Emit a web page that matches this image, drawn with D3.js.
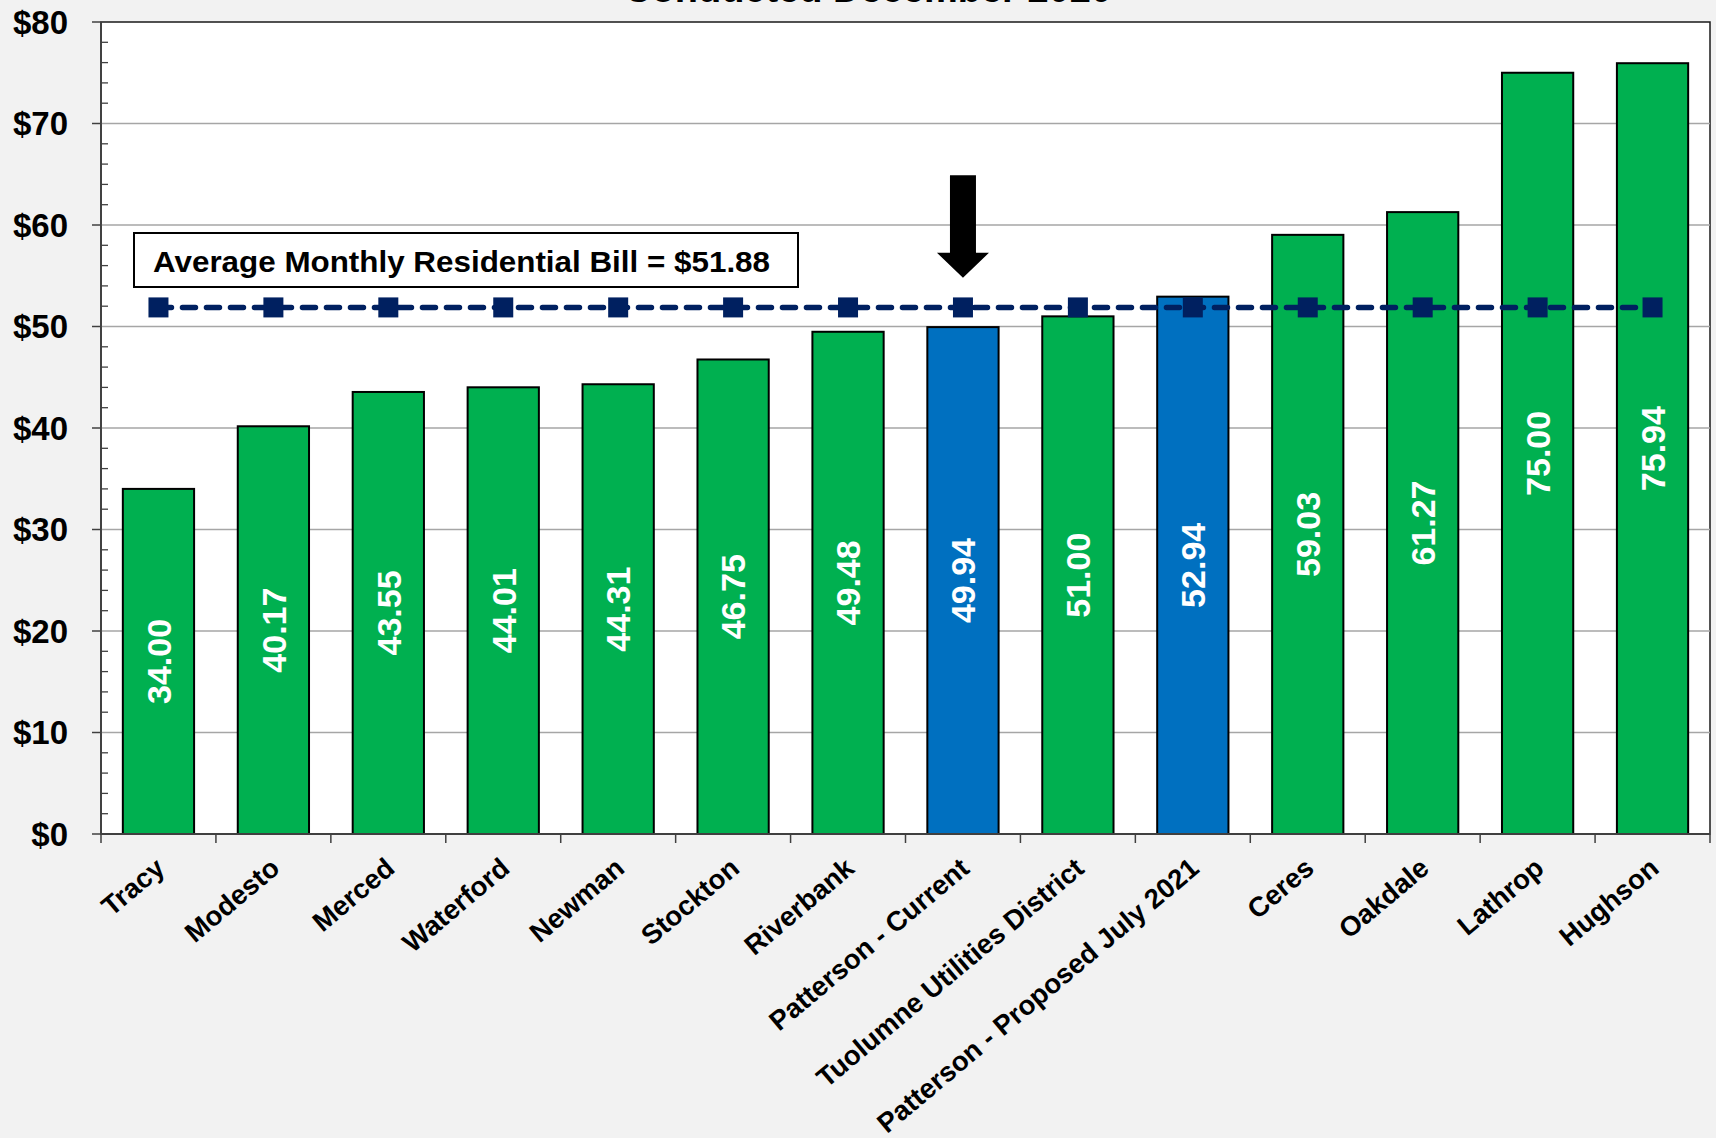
<!DOCTYPE html>
<html lang="en">
<head>
<meta charset="UTF-8">
<title>Monthly Residential Bill Survey</title>
<script src="https://d3js.org/d3.v7.min.js"></script>
<style>
    body, html {
        margin: 0;
        padding: 0;
        background: #f2f2f2;
        overflow: hidden;
    }
    svg text {
        font-family: "Liberation Sans", Arial, sans-serif;
        font-weight: bold;
    }
</style>
</head>
<body>
<svg id="chart" width="1716" height="1138"></svg>
<script>
// data
const agencies = ["Tracy", "Modesto", "Merced", "Waterford", "Newman", "Stockton", "Riverbank",
    "Patterson - Current", "Tuolumne Utilities District", "Patterson - Proposed July 2021",
    "Ceres", "Oakdale", "Lathrop", "Hughson"];
const bills = [34.00, 40.17, 43.55, 44.01, 44.31, 46.75, 49.48, 49.94, 51.00, 52.94, 59.03, 61.27, 75.00, 75.94];
const highlighted = ["Patterson - Current", "Patterson - Proposed July 2021"];
const averageBill = 51.88;
const yTicks = [0, 10, 20, 30, 40, 50, 60, 70, 80];
const title = "Conducted December 2020";
const averageLabel = "Average Monthly Residential Bill = $51.88";
const arrowTarget = "Patterson - Current";
const arrowFrom = 64.9, arrowTo = 54.8;   // in $ units

const svg = d3.select("#chart");
const plotLeft = 101, plotRight = 1710, plotTop = 22, plotBottom = 834;

const x = d3.scaleBand()
    .domain(agencies)
    .range([plotLeft, plotRight])
    .paddingInner(0.38)
    .paddingOuter(0.19);

const y = d3.scaleLinear()
    .domain([0, 80])
    .range([plotBottom, plotTop]);

// title (cut off at the top like the original)
svg.append("text")
    .attr("x", 868)
    .attr("y", 2)
    .attr("text-anchor", "middle")
    .attr("font-size", 38)
    .attr("fill", "#000")
    .text(title);

// plot area
svg.append("rect")
    .attr("x", plotLeft).attr("y", plotTop)
    .attr("width", plotRight - plotLeft).attr("height", plotBottom - plotTop)
    .attr("fill", "#fff")
    .attr("stroke", "#1a1a1a")
    .attr("stroke-width", 1.5);

// gridlines
svg.append("g")
    .selectAll("line")
    .data(yTicks.filter(d => d > 0 && d < 80))
    .join("line")
    .attr("x1", plotLeft).attr("x2", plotRight)
    .attr("y1", d => y(d)).attr("y2", d => y(d))
    .attr("stroke", "#a6a6a6")
    .attr("stroke-width", 1.3);

// bars
const centre = d => x(d) + x.bandwidth() / 2;
svg.append("g")
    .selectAll("rect")
    .data(agencies)
    .join("rect")
    .attr("x", d => x(d))
    .attr("y", (d, i) => y(bills[i]))
    .attr("width", x.bandwidth())
    .attr("height", (d, i) => y(0) - y(bills[i]))
    .attr("fill", d => highlighted.includes(d) ? "#0070c0" : "#00b050")
    .attr("stroke", "#000")
    .attr("stroke-width", 2);

// value labels inside bars
svg.append("g")
    .selectAll("text")
    .data(agencies)
    .join("text")
    .attr("transform", (d, i) => `translate(${centre(d)},${(y(bills[i]) + y(0)) / 2}) rotate(-90)`)
    .attr("text-anchor", "middle")
    .attr("dy", "0.36em")
    .attr("font-size", 34)
    .attr("fill", "#fff")
    .text((d, i) => bills[i].toFixed(2));

// average line with square markers
const avgY = y(averageBill);
svg.append("line")
    .attr("x1", centre(agencies[0]))
    .attr("x2", centre(agencies[agencies.length - 1]))
    .attr("y1", avgY).attr("y2", avgY)
    .attr("stroke", "#002060")
    .attr("stroke-width", 5.5)
    .attr("stroke-dasharray", "13 11")
    .attr("stroke-linecap", "round");

svg.append("g")
    .selectAll("rect")
    .data(agencies)
    .join("rect")
    .attr("x", d => centre(d) - 10)
    .attr("y", avgY - 10)
    .attr("width", 20).attr("height", 20)
    .attr("fill", "#002060");

// average label box
const box = svg.append("g");
box.append("rect")
    .attr("x", 134).attr("y", 233)
    .attr("width", 664).attr("height", 54)
    .attr("fill", "#fff")
    .attr("stroke", "#000")
    .attr("stroke-width", 2);
box.append("text")
    .attr("x", 153).attr("y", 272)
    .attr("font-family", "Lato, 'Open Sans', sans-serif")
    .attr("font-size", 30)
    .attr("textLength", 617)
    .attr("lengthAdjust", "spacingAndGlyphs")
    .attr("fill", "#000")
    .text(averageLabel);

// arrow pointing at the current Patterson bill
const ax = centre(arrowTarget);
const a0 = y(arrowFrom), a1 = y(arrowTo);
svg.append("path")
    .attr("d", `M${ax - 13},${a0} H${ax + 13} V${a1 - 25} H${ax + 26} L${ax},${a1} L${ax - 26},${a1 - 25} H${ax - 13} Z`)
    .attr("fill", "#000");

// y axis
svg.append("line")
    .attr("x1", plotLeft).attr("x2", plotLeft)
    .attr("y1", plotTop).attr("y2", plotBottom)
    .attr("stroke", "#404040").attr("stroke-width", 1.8);

svg.append("g")
    .selectAll("line")
    .data(d3.range(0, 81, 2).filter(d => d % 10 !== 0))
    .join("line")
    .attr("x1", plotLeft).attr("x2", plotLeft + 7)
    .attr("y1", d => y(d)).attr("y2", d => y(d))
    .attr("stroke", "#404040").attr("stroke-width", 1.3);

svg.append("g")
    .selectAll("line")
    .data(yTicks)
    .join("line")
    .attr("x1", plotLeft - 9).attr("x2", plotLeft)
    .attr("y1", d => y(d)).attr("y2", d => y(d))
    .attr("stroke", "#404040").attr("stroke-width", 1.5);

svg.append("g")
    .selectAll("text")
    .data(yTicks)
    .join("text")
    .attr("x", 68)
    .attr("y", d => y(d))
    .attr("dy", "0.36em")
    .attr("text-anchor", "end")
    .attr("font-size", 33)
    .attr("fill", "#000")
    .text(d => "$" + d);

// x axis
svg.append("line")
    .attr("x1", plotLeft).attr("x2", plotRight)
    .attr("y1", plotBottom).attr("y2", plotBottom)
    .attr("stroke", "#404040").attr("stroke-width", 2);

const step = x.step();
svg.append("g")
    .selectAll("line")
    .data(d3.range(agencies.length + 1))
    .join("line")
    .attr("x1", i => plotLeft + i * step).attr("x2", i => plotLeft + i * step)
    .attr("y1", plotBottom).attr("y2", plotBottom + 9)
    .attr("stroke", "#404040").attr("stroke-width", 1.5);

svg.append("g")
    .selectAll("text")
    .data(agencies)
    .join("text")
    .attr("transform", d => `translate(${centre(d) + 8},${plotBottom + 37}) rotate(-40)`)
    .attr("text-anchor", "end")
    .attr("font-size", 27.5)
    .attr("fill", "#000")
    .text(d => d);
</script>
</body>
</html>
